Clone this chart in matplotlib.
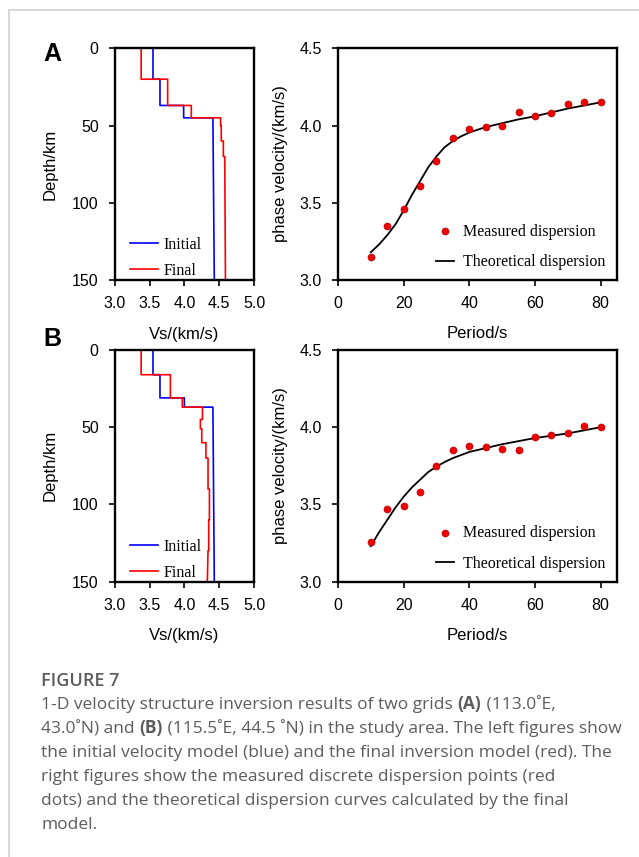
import numpy as np
import matplotlib
matplotlib.use("Agg")
import matplotlib.pyplot as plt
from matplotlib.lines import Line2D

# ---- data: 1-D velocity models (step profiles: layer top depth, Vs) ----
depth_init_a = [0, 20, 20, 37, 37, 45, 45, 150]
vs_init_a = [3.55, 3.55, 3.65, 3.65, 3.99, 3.99, 4.41, 4.43]
depth_final_a = [0, 20, 20, 37, 37, 45, 45, 50, 50, 60, 60, 70, 70, 150]
vs_final_a = [3.38, 3.38, 3.76, 3.76, 4.10, 4.10, 4.52, 4.52, 4.53, 4.53,
              4.56, 4.56, 4.58, 4.59]

depth_init_b = [0, 16, 16, 31, 31, 37, 37, 150]
vs_init_b = [3.55, 3.55, 3.65, 3.65, 4.00, 4.00, 4.41, 4.43]
depth_final_b = [0, 16, 16, 31, 31, 37, 37, 45, 45, 51, 51, 60, 60, 70,
                 70, 90, 90, 110, 110, 130, 130, 150]
vs_final_b = [3.38, 3.38, 3.80, 3.80, 3.97, 3.97, 4.26, 4.26, 4.23, 4.23,
              4.25, 4.25, 4.31, 4.31, 4.34, 4.34, 4.36, 4.36, 4.35, 4.35,
              4.34, 4.33]

# ---- data: dispersion ----
period = [10, 15, 20, 25, 30, 35, 40, 45, 50, 55, 60, 65, 70, 75, 80]
meas_a = [3.15, 3.35, 3.46, 3.61, 3.77, 3.92, 3.98, 3.99, 4.00, 4.09,
          4.06, 4.08, 4.14, 4.15, 4.15]
meas_b = [3.26, 3.47, 3.49, 3.58, 3.75, 3.85, 3.88, 3.87, 3.86, 3.85,
          3.94, 3.95, 3.96, 4.01, 4.00]

# theoretical curves read at a finer period step
period_theo = [10, 12.5, 15, 17.5, 20, 22.5, 25, 27.5, 30, 32.5, 35, 37.5, 40,
               45, 50, 55, 60, 65, 70, 75, 80]
theo_a = [3.18, 3.23, 3.29, 3.36, 3.45, 3.55, 3.64, 3.73, 3.80, 3.86, 3.90,
          3.93, 3.955, 3.99, 4.015, 4.04, 4.06, 4.085, 4.11, 4.13, 4.15]
theo_b = [3.23, 3.32, 3.40, 3.48, 3.55, 3.61, 3.66, 3.71, 3.745, 3.775, 3.80,
          3.82, 3.84, 3.865, 3.89, 3.91, 3.93, 3.945, 3.96, 3.98, 4.00]

vs_ticks = [3.0, 3.5, 4.0, 4.5, 5.0]
depth_ticks = [0, 50, 100, 150]
period_ticks = [0, 20, 40, 60, 80]
phase_ticks = [3.0, 3.5, 4.0, 4.5]

caption_title = "FIGURE 7"
caption_lines = [
    [("1-D velocity structure inversion results of two grids ", "normal"),
     ("(A)", "bold"), (" (113.0˚E,", "normal")],
    [("43.0˚N) and ", "normal"), ("(B)", "bold"),
     (" (115.5˚E, 44.5 ˚N) in the study area. The left figures show", "normal")],
    [("the initial velocity model (blue) and the final inversion model (red). The", "normal")],
    [("right figures show the measured discrete dispersion points (red", "normal")],
    [("dots) and the theoretical dispersion curves calculated by the final", "normal")],
    [("model.", "normal")],
]

W, H = 639, 857
SANS = "Liberation Sans"
SERIF = "Liberation Serif"
CAP_FONT = "Open Sans"
CAP_COLOR = "#5c5c5c"

fig = plt.figure(figsize=(W / 100, H / 100), dpi=100)


def px_rect(left, top, right, bottom):
    return [left / W, 1 - bottom / H, (right - left) / W, (bottom - top) / H]


def style_axes(ax):
    for sp in ["top", "right", "bottom", "left"]:
        ax.spines[sp].set_linewidth(1.7)
    ax.tick_params(direction="out", length=4, width=1.2, pad=7.5,
                   labelsize=11.5, top=False, right=False)
    for lab in ax.get_xticklabels() + ax.get_yticklabels():
        lab.set_fontfamily(SANS)


def velocity_panel(rect, d_init, v_init, d_fin, v_fin):
    ax = fig.add_axes(rect)
    ax.plot(v_init, d_init, color="#0000ff", lw=1.2, label="Initial")
    ax.plot(v_fin, d_fin, color="#ff0000", lw=1.2, label="Final")
    ax.set_xlim(3.0, 5.0)
    ax.set_ylim(150, 0)
    ax.set_xticks(vs_ticks)
    ax.set_xticklabels([f"{v:.1f}" for v in vs_ticks])
    ax.set_yticks(depth_ticks)
    style_axes(ax)
    ax.legend(loc="lower left", bbox_to_anchor=(0.05, -0.03), frameon=False,
              prop={"family": SERIF, "size": 11.5}, handlelength=1.75,
              handletextpad=0.35, labelspacing=0.62, borderaxespad=0.1)
    return ax


def dispersion_panel(rect, meas, theo):
    ax = fig.add_axes(rect)
    ax.plot(period_theo, theo, color="black", lw=1.3,
            label="Theoretical dispersion", zorder=2)
    ax.scatter(period, meas, s=26, color="#ee0000", edgecolor="#b00000",
               linewidth=0.4, label="Measured dispersion", zorder=3)
    ax.set_xlim(0, 85)
    ax.set_ylim(3.0, 4.5)
    ax.set_xticks(period_ticks)
    ax.set_yticks(phase_ticks)
    ax.set_yticklabels([f"{v:.1f}" for v in phase_ticks])
    style_axes(ax)
    h, l = ax.get_legend_handles_labels()
    ax.legend(h[::-1], l[::-1], loc="lower right", bbox_to_anchor=(1.0, -0.01),
              frameon=False, prop={"family": SERIF, "size": 11.5},
              handlelength=1.1, handletextpad=0.55, labelspacing=0.92,
              borderaxespad=0.35, scatterpoints=1)
    return ax


# panel A
velocity_panel(px_rect(114.7, 48.3, 254, 280), depth_init_a, vs_init_a,
               depth_final_a, vs_final_a)
dispersion_panel(px_rect(338, 48.3, 617, 280), meas_a, theo_a)
# panel B
velocity_panel(px_rect(114.7, 350, 254, 581.7), depth_init_b, vs_init_b,
               depth_final_b, vs_final_b)
dispersion_panel(px_rect(338, 350, 617, 581.7), meas_b, theo_b)

# axis titles and panel letters (positions in px from top-left)
for top_px, letter in [(54, "A"), (339, "B")]:
    fig.text(43 / W, 1 - top_px / H, letter, fontsize=18, fontweight="bold",
             family=SANS, ha="left", va="center")
for off in [0, 301.7]:
    fig.text(184 / W, 1 - (334 + off) / H, "Vs/(km/s)", fontsize=12,
             family=SANS, ha="center", va="center")
    fig.text(477 / W, 1 - (334 + off) / H, "Period/s", fontsize=12,
             family=SANS, ha="center", va="center")
    fig.text(50 / W, 1 - (164 + off) / H, "Depth/km", fontsize=12,
             family=SANS, ha="center", va="center", rotation=90)
    fig.text(281 / W, 1 - (164 + off) / H, "phase velocity/(km/s)", fontsize=12,
             family=SANS, ha="center", va="center", rotation=90)

# page frame (light grey rule at top and left)
fig.add_artist(Line2D([9 / W, 9 / W], [0, 1 - 9.5 / H], transform=fig.transFigure,
                      color="#d4d4d4", lw=1.3))
fig.add_artist(Line2D([9 / W, 1], [1 - 9.5 / H, 1 - 9.5 / H],
                      transform=fig.transFigure, color="#d4d4d4", lw=1.3))

# caption
CAP_SIZE = 12.5
fig.text(41.5 / W, 1 - 686 / H, caption_title, fontsize=13, family=CAP_FONT,
         fontweight="semibold", color=CAP_COLOR, ha="left", va="baseline")

fig.canvas.draw()
renderer = fig.canvas.get_renderer()
baselines = [709, 733, 757, 781, 805, 829]
for base, segments in zip(baselines, caption_lines):
    x = 41.5
    for txt, weight in segments:
        t = fig.text(x / W, 1 - base / H, txt, fontsize=CAP_SIZE, family=CAP_FONT,
                     fontweight=weight, color=CAP_COLOR, ha="left", va="baseline")
        x += t.get_window_extent(renderer).width

fig.savefig("out.png", dpi=100)
